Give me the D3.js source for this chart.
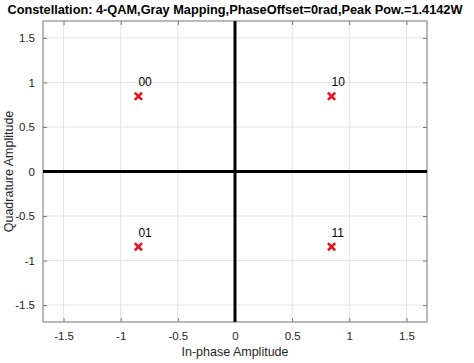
<!DOCTYPE html>
<html>
<head>
<meta charset="utf-8">
<script src="https://cdn.jsdelivr.net/npm/d3@7"></script>
<style>
  body { margin: 0; background: #fff; }
  text { font-family: Arial, "Liberation Sans", sans-serif; }
</style>
</head>
<body>
<svg id="chart" width="474" height="363"></svg>
<script>
// constellation symbols (I, Q) and their bit labels
var symbolI = [-0.845, -0.845, 0.845, 0.845];
var symbolQ = [0.845, -0.845, 0.845, -0.845];
var symbolBits = ['00', '01', '10', '11'];
var tickValues = [-1.5, -1, -0.5, 0, 0.5, 1, 1.5];
var titleText = 'Constellation: 4-QAM,Gray Mapping,PhaseOffset=0rad,Peak Pow.=1.4142W';

var svg = d3.select('#chart');
var box = {left: 43, right: 427, top: 21, bottom: 322};

var x = d3.scaleLinear().domain([-1.68, 1.68]).range([box.left, box.right]);
var y = d3.scaleLinear().domain([-1.69, 1.69]).range([box.bottom, box.top]);

// grid
svg.append('g').selectAll('line.gx').data(tickValues).enter().append('line')
    .attr('x1', function(d) { return x(d); }).attr('x2', function(d) { return x(d); })
    .attr('y1', box.top).attr('y2', box.bottom)
    .attr('stroke', '#e3e3e3').attr('stroke-width', 1);
svg.append('g').selectAll('line.gy').data(tickValues).enter().append('line')
    .attr('y1', function(d) { return y(d); }).attr('y2', function(d) { return y(d); })
    .attr('x1', box.left).attr('x2', box.right)
    .attr('stroke', '#e3e3e3').attr('stroke-width', 1);

// axes (ticks pointing inward, labels outside)
var fmt = function(d) { return d3.format('')(d).replace('−', '-'); };
function styleAxis(g) {
    g.select('.domain').remove();
    g.selectAll('.tick line').attr('stroke', '#777');
    g.selectAll('.tick text').attr('fill', '#262626').style('font-size', '11.5px');
}
svg.append('g').attr('transform', 'translate(0,' + box.bottom + ')')
    .call(d3.axisBottom(x).tickValues(tickValues).tickFormat(fmt).tickSizeInner(-4).tickPadding(10))
    .call(styleAxis);
svg.append('g').attr('transform', 'translate(0,' + box.top + ')')
    .call(d3.axisTop(x).tickValues(tickValues).tickFormat('').tickSizeInner(-4))
    .call(styleAxis);
svg.append('g').attr('transform', 'translate(' + box.left + ',0)')
    .call(d3.axisLeft(y).tickValues(tickValues).tickFormat(fmt).tickSizeInner(-4).tickPadding(8))
    .call(styleAxis);
svg.append('g').attr('transform', 'translate(' + box.right + ',0)')
    .call(d3.axisRight(y).tickValues(tickValues).tickFormat('').tickSizeInner(-4))
    .call(styleAxis);

// plot box
svg.append('rect')
    .attr('x', box.left).attr('y', box.top)
    .attr('width', box.right - box.left).attr('height', box.bottom - box.top)
    .attr('fill', 'none').attr('stroke', '#8c8c8c').attr('stroke-width', 1.2);

// I and Q axes through origin
svg.append('line')
    .attr('x1', box.left).attr('x2', box.right)
    .attr('y1', y(0)).attr('y2', y(0))
    .attr('stroke', '#000').attr('stroke-width', 3);
svg.append('line')
    .attr('x1', x(0)).attr('x2', x(0))
    .attr('y1', box.top).attr('y2', box.bottom)
    .attr('stroke', '#000').attr('stroke-width', 3);

// symbols
var idx = d3.range(symbolI.length);
var m = 3.6;
var marks = svg.append('g').selectAll('g').data(idx).enter().append('g')
    .attr('transform', function(i) { return 'translate(' + x(symbolI[i]) + ',' + y(symbolQ[i]) + ')'; });
marks.append('path')
    .attr('d', 'M' + -m + ',' + -m + 'L' + m + ',' + m + 'M' + -m + ',' + m + 'L' + m + ',' + -m)
    .attr('stroke', '#e8101a').attr('stroke-width', 2.6).attr('fill', 'none');
marks.append('text')
    .attr('x', 0).attr('y', -10)
    .attr('fill', '#000').style('font-size', '12px')
    .text(function(i) { return symbolBits[i]; });

// labels
svg.append('text')
    .attr('x', 235).attr('y', 14).attr('text-anchor', 'middle')
    .attr('textLength', 455).attr('lengthAdjust', 'spacingAndGlyphs')
    .style('font-size', '12.5px').style('font-weight', 'bold').attr('fill', '#000')
    .text(titleText);
svg.append('text')
    .attr('x', x(0)).attr('y', 356).attr('text-anchor', 'middle')
    .style('font-size', '12.5px').attr('fill', '#262626')
    .text('In-phase Amplitude');
svg.append('text')
    .attr('transform', 'translate(13,' + y(0) + ') rotate(-90)').attr('text-anchor', 'middle')
    .style('font-size', '12.5px').attr('fill', '#262626')
    .text('Quadrature Amplitude');
</script>
</body>
</html>
